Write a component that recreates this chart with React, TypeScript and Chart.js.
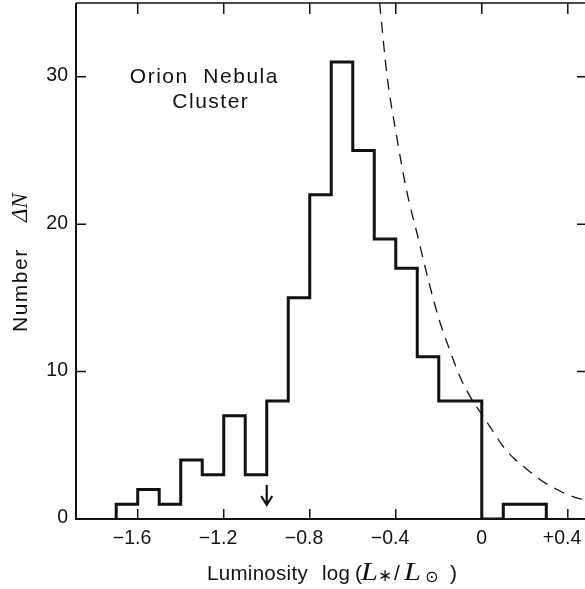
import React, { useEffect, useRef } from "react";
import { Chart, registerables } from "chart.js";
Chart.register(...registerables);

// Histogram: left edges of 0.1-dex bins and counts
const binStarts = [-1.7, -1.6, -1.5, -1.4, -1.3, -1.2, -1.1, -1.0, -0.9, -0.8, -0.7, -0.6, -0.5, -0.4, -0.3, -0.2, -0.1, 0.0, 0.1, 0.2];
const binEnd = 0.3;
const counts = [1, 2, 1, 4, 3, 7, 3, 8, 15, 22, 31, 25, 19, 17, 11, 8, 8, 0, 1, 1];

// Dashed reference curve
const curveX = [-0.475, -0.44, -0.4, -0.35, -0.3, -0.25, -0.2, -0.15, -0.1, -0.05, 0, 0.05, 0.1, 0.15, 0.2, 0.25, 0.3, 0.35, 0.4, 0.45, 0.48];
const curveY = [35, 30, 26.3, 22.3, 19.3, 16.3, 13.6, 11.5, 9.6, 8.2, 7.1, 6.0, 4.9, 4.1, 3.5, 2.9, 2.4, 2.0, 1.65, 1.4, 1.3];

// Axes
const X_MIN = -1.887;
const X_MAX = 0.48;
const Y_MIN = 0;
const Y_MAX = 35;
const xTicks = [-1.6, -1.2, -0.8, -0.4, 0, 0.4];
const xTickSigns = ["\u2212", "\u2212", "\u2212", "\u2212", "", "+"];
const xTickNums = ["1.6", "1.2", "0.8", "0.4", "0", "0.4"];
const yTicks = [0, 10, 20, 30];
const yTickLabels = ["0", "10", "20", "30"];

// Arrow (upper limit marker)
const arrowX = -1.0;
const arrowFromY = 2.3;
const arrowToY = 0.95;

const SANS = '"Liberation Sans", Arial, Helvetica, sans-serif';
const SERIF_IT = 'italic 25px "Liberation Serif", "Times New Roman", serif';

const framePlugin = {
  id: "frame",
  afterDraw(chart: any) {
    const { ctx, chartArea: a, scales } = chart;
    const xs = scales.x;
    const ys = scales.y;
    ctx.save();
    ctx.strokeStyle = "#111";
    ctx.fillStyle = "#111";
    // frame
    ctx.lineWidth = 2;
    ctx.beginPath();
    ctx.moveTo(a.left, a.top);
    ctx.lineTo(a.left, a.bottom);
    ctx.lineTo(a.right, a.bottom);
    ctx.stroke();
    ctx.lineWidth = 1.6;
    ctx.beginPath();
    ctx.moveTo(a.left, a.top);
    ctx.lineTo(a.right, a.top);
    ctx.stroke();

    // x ticks (inward, bottom & top)
    ctx.lineWidth = 1.5;
    xTicks.forEach((v) => {
      const px = xs.getPixelForValue(v);
      ctx.beginPath();
      ctx.moveTo(px, a.bottom);
      ctx.lineTo(px, a.bottom - 10);
      ctx.moveTo(px, a.top);
      ctx.lineTo(px, a.top + 11);
      ctx.stroke();
    });
    // y ticks (left & right)
    yTicks.forEach((v) => {
      if (v === 0) return;
      const py = ys.getPixelForValue(v);
      ctx.beginPath();
      ctx.moveTo(a.left, py);
      ctx.lineTo(a.left + 10, py);
      ctx.moveTo(a.right, py);
      ctx.lineTo(a.right - 8, py);
      ctx.stroke();
    });

    // x tick labels
    ctx.font = "19.5px " + SANS;
    ctx.textBaseline = "alphabetic";
    xTicks.forEach((v, i) => {
      const px = xs.getPixelForValue(v);
      const num = xTickNums[i];
      const w = ctx.measureText(num).width;
      ctx.textAlign = "center";
      ctx.fillText(num, px, a.bottom + 25);
      if (xTickSigns[i]) {
        ctx.textAlign = "right";
        ctx.fillText(xTickSigns[i], px - w / 2, a.bottom + 25);
      }
    });
    // y tick labels
    ctx.textAlign = "right";
    ctx.textBaseline = "middle";
    yTicks.forEach((v, i) => {
      const py = ys.getPixelForValue(v);
      ctx.fillText(yTickLabels[i], a.left - 8, py - 1);
    });

    // arrow
    const ax = xs.getPixelForValue(arrowX);
    const ay1 = ys.getPixelForValue(arrowFromY);
    const ay2 = ys.getPixelForValue(arrowToY);
    ctx.lineWidth = 2.2;
    ctx.beginPath();
    ctx.moveTo(ax, ay1);
    ctx.lineTo(ax, ay2);
    ctx.moveTo(ax - 5.5, ay2 - 9);
    ctx.lineTo(ax, ay2);
    ctx.lineTo(ax + 5.5, ay2 - 9);
    ctx.stroke();

    // annotation text
    (ctx as any).letterSpacing = "1.5px";
    ctx.font = "21px " + SANS;
    ctx.textAlign = "center";
    ctx.textBaseline = "alphabetic";
    ctx.fillText("Orion  Nebula", xs.getPixelForValue(-1.29), ys.getPixelForValue(29.55));
    ctx.fillText("Cluster", xs.getPixelForValue(-1.26), ys.getPixelForValue(27.85));

    // x title
    const base = a.bottom + 61;
    ctx.textAlign = "left";
    ctx.font = "20.5px " + SANS;
    (ctx as any).letterSpacing = "0.3px";
    ctx.fillText("Luminosity", 207, base);
    ctx.fillText("log", 322, base);
    (ctx as any).letterSpacing = "0px";
    ctx.font = "21px " + SANS;
    ctx.fillText("(", 355, base);
    const drawWideL = (x: number) => {
      ctx.save();
      ctx.translate(x, base);
      ctx.scale(1.22, 1);
      ctx.font = SERIF_IT;
      ctx.fillText("L", 0, 0);
      ctx.restore();
    };
    drawWideL(361);
    ctx.font = "17px " + SANS;
    ctx.fillText("\u2217", 378, base + 1);
    ctx.font = "21px " + SANS;
    ctx.fillText("/", 394, base);
    drawWideL(404);
    ctx.font = "16px DejaVu Sans, sans-serif";
    ctx.fillText("\u2299", 425, base + 2);
    ctx.font = "21px " + SANS;
    ctx.fillText(")", 450, base);

    // y title
    ctx.translate(27, 332);
    ctx.rotate(-Math.PI / 2);
    ctx.textAlign = "left";
    ctx.font = "21px " + SANS;
    (ctx as any).letterSpacing = "1.5px";
    ctx.fillText("Number", 0, 0);
    (ctx as any).letterSpacing = "0px";
    ctx.font = 'italic 23px "Liberation Serif", serif';
    ctx.fillText("\u0394N", 110, 0);
    ctx.restore();
  },
};

export default function App() {
  const ref = useRef<HTMLCanvasElement>(null);
  useEffect(() => {
    const histPts = [{ x: binStarts[0], y: 0 }, ...binStarts.map((b, i) => ({ x: b, y: counts[i] })), { x: binEnd, y: 0 }];
    const curvePts = curveX.map((x, i) => ({ x, y: curveY[i] }));
    const chart = new Chart(ref.current as HTMLCanvasElement, {
      type: "line",
      data: {
        datasets: [
          {
            data: histPts,
            stepped: "before",
            borderColor: "#111",
            borderWidth: 3,
            pointRadius: 0,
            fill: false,
            borderJoinStyle: "miter",
          } as any,
          {
            data: curvePts,
            borderColor: "#111",
            borderWidth: 1.3,
            borderDash: [11, 8],
            pointRadius: 0,
            cubicInterpolationMode: "monotone",
            fill: false,
          } as any,
        ],
      },
      options: {
        animation: false,
        responsive: false,
        maintainAspectRatio: false,
        events: [],
        layout: { padding: { left: 76, top: 3, right: 0, bottom: 70 } },
        plugins: { legend: { display: false }, tooltip: { enabled: false } },
        scales: {
          x: { type: "linear", min: X_MIN, max: X_MAX, display: false },
          y: { type: "linear", min: Y_MIN, max: Y_MAX, display: false },
        },
      },
      plugins: [framePlugin],
    });
    return () => chart.destroy();
  }, []);
  return (
    <div style={{ position: "absolute", left: 0, top: 0, width: 585, height: 589, background: "#fff" }}>
      <canvas ref={ref} width={585} height={589} style={{ display: "block", width: 585, height: 589 }} />
    </div>
  );
}
